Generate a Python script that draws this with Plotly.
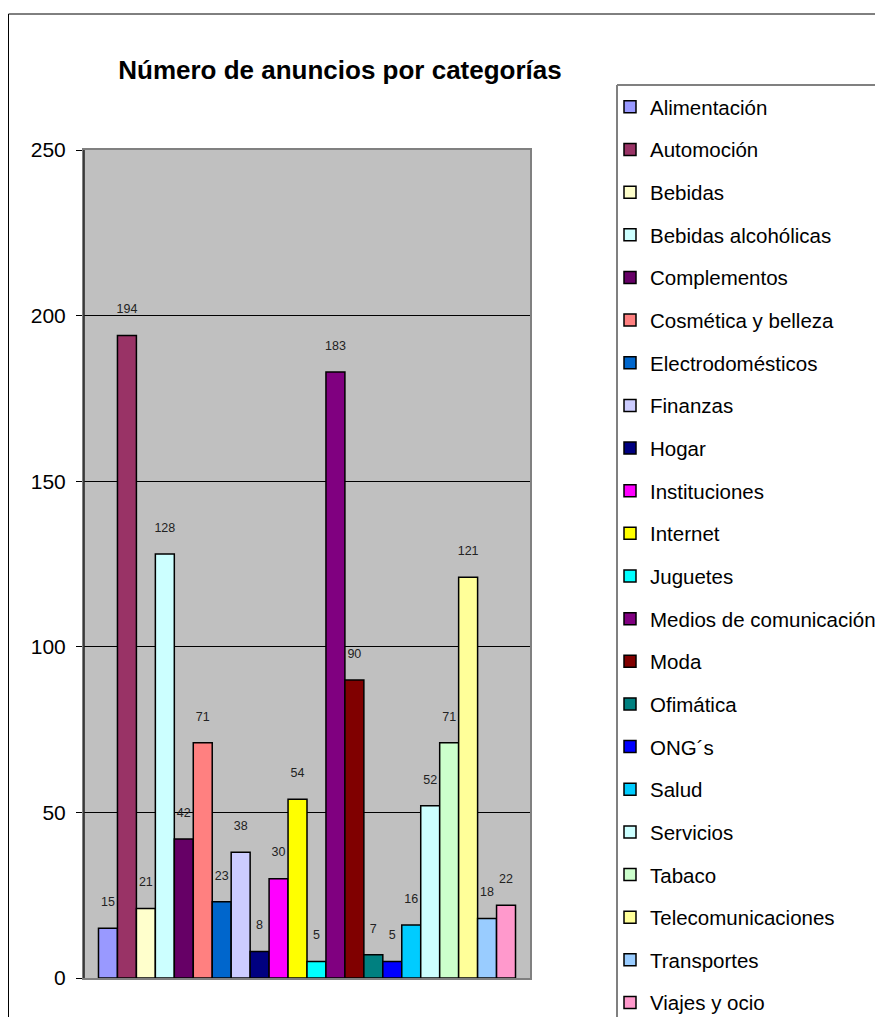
import plotly.graph_objects as go

# the page adds an 8px body margin, so the figure is drawn 8px in from the corner
OFF = 8
W, H = 883 - OFF, 1017 - OFF
L, R, T, B = 84, 530, 150, 978  # plot area in page px

categorias = [
    "Alimentación", "Automoción", "Bebidas", "Bebidas alcohólicas", "Complementos",
    "Cosmética y belleza", "Electrodomésticos", "Finanzas", "Hogar", "Instituciones",
    "Internet", "Juguetes", "Medios de comunicación", "Moda", "Ofimática", "ONG´s",
    "Salud", "Servicios", "Tabaco", "Telecomunicaciones", "Transportes", "Viajes y ocio",
]
anuncios = [15, 194, 21, 128, 42, 71, 23, 38, 8, 30, 54, 5, 183, 90, 7, 5, 16, 52, 71, 121, 18, 22]
colores = [
    "#9999FF", "#993366", "#FFFFCC", "#CCFFFF", "#660066", "#FF8080", "#0066CC",
    "#CCCCFF", "#000080", "#FF00FF", "#FFFF00", "#00FFFF", "#800080", "#800000",
    "#008080", "#0000FF", "#00CCFF", "#CCFFFF", "#CCFFCC", "#FFFF99", "#99CCFF", "#FF99CC",
]
y_ticks = [0, 50, 100, 150, 200, 250]

FONT = "Liberation Sans, Arial, sans-serif"


def px_x(px):
    return (px - L) / (R - L)


def px_y(py):
    return (B - py) / (B - T)


fig = go.Figure()
for cat, val, col in zip(categorias, anuncios, colores):
    fig.add_trace(go.Bar(
        x=["Número de anuncios"], y=[val], name=cat, legendgroup=cat,
        marker=dict(color=col, line=dict(color="black", width=1.5)),
        text=[f"{val}<br> "], textposition="outside", textangle=0,
        constraintext="none", cliponaxis=False,
        textfont=dict(size=12.5, color="#222", family=FONT),
    ))

# outer chart frame (left edge kept just inside the figure) and legend frame
fig.add_shape(type="rect", xref="paper", yref="paper",
              x0=px_x(OFF + 0.5), x1=px_x(900), y0=px_y(1040), y1=px_y(14),
              line=dict(color="black", width=1))
fig.add_shape(type="line", xref="paper", yref="paper",
              x0=px_x(617), x1=px_x(617), y0=px_y(85), y1=px_y(1040),
              line=dict(color="#808080", width=2))
fig.add_shape(type="line", xref="paper", yref="paper",
              x0=px_x(617), x1=px_x(900), y0=px_y(85), y1=px_y(85),
              line=dict(color="#808080", width=2))
fig.add_shape(type="line", xref="paper", yref="paper",
              x0=0, x1=0, y0=0, y1=1, line=dict(color="#222", width=1.5))

fig.update_layout(
    width=W, height=H,
    margin=dict(l=L - OFF, r=W - (R - OFF), t=T - OFF, b=H - (B - OFF), autoexpand=False),
    paper_bgcolor="white", plot_bgcolor="#C0C0C0",
    font=dict(family=FONT, color="black"),
    barmode="group", bargap=0.065, bargroupgap=0,
    title=dict(text="<b>Número de anuncios por categorías</b>",
               font=dict(size=26, family=FONT, color="black"),
               xref="container", yref="container",
               x=(340 - OFF) / W, y=1 - (70 - OFF) / H, xanchor="center", yanchor="middle"),
    xaxis=dict(showticklabels=False, ticks="", showgrid=False,
               showline=True, linecolor="#808080", linewidth=2, mirror=True),
    yaxis=dict(range=[0, 250], tickvals=y_ticks, ticks="outside", ticklen=6,
               tickcolor="black", tickfont=dict(size=21, family=FONT),
               ticklabelstandoff=6,
               showgrid=True, gridcolor="black", gridwidth=1,
               showline=True, linecolor="#808080", linewidth=2, mirror=True,
               zeroline=False),
    showlegend=True,
    legend=dict(x=px_x(610), y=px_y(87), xanchor="left", yanchor="top",
                xref="paper", yref="paper",
                font=dict(size=20.5, family=FONT), bgcolor="rgba(0,0,0,0)",
                borderwidth=0, traceorder="grouped", tracegroupgap=13,
                maxheight=2000),
)

fig.write_html("out.html")
